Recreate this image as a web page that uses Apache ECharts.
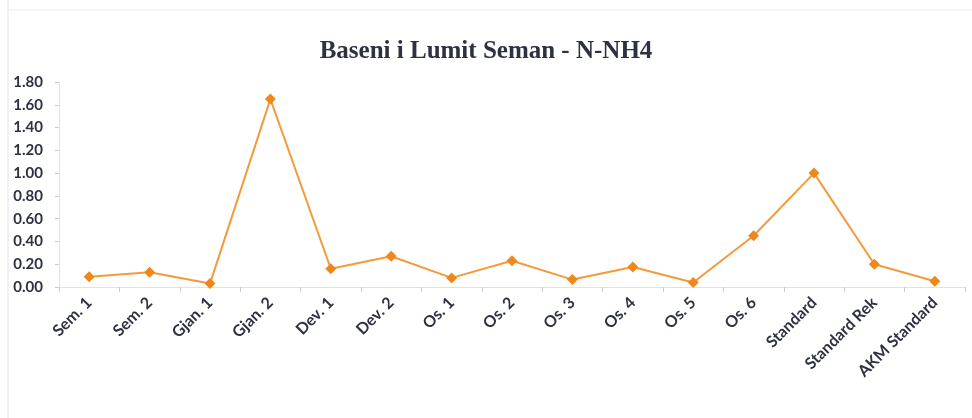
<!DOCTYPE html>
<html>
<head>
<meta charset="utf-8">
<script src="https://cdn.jsdelivr.net/npm/echarts@6/dist/echarts.min.js"></script>
<style>
  html, body { margin: 0; padding: 0; background: #fff; }
  #chart { width: 972px; height: 418px; }
</style>
</head>
<body>
<div id="chart"></div>
<script>
// te dhenat
var categories = ['Sem. 1', 'Sem. 2', 'Gjan. 1', 'Gjan. 2', 'Dev. 1', 'Dev. 2', 'Os. 1', 'Os. 2',
  'Os. 3', 'Os. 4', 'Os. 5', 'Os. 6', 'Standard', 'Standard Rek', 'AKM Standard'];
var values = [0.09, 0.13, 0.03, 1.65, 0.16, 0.27, 0.08, 0.23, 0.065, 0.175, 0.04, 0.45, 1.00, 0.20, 0.05];
var yTicks = { min: 0, max: 1.8, step: 0.2 };

function Chart_1(){
  var chart = echarts.init(document.getElementById('chart'));
  var option = {
    backgroundColor: '#fff',
    title: {
      text: 'Baseni i Lumit Seman - N-NH4',
      left: 'center',
      top: 34,
      textStyle: {
        fontFamily: 'Liberation Serif',
        fontSize: 25,
        fontWeight: 'bold',
        color: '#2e3240'
      }
    },
    graphic: [
      { type: 'line', shape: { x1: 8, y1: 0, x2: 8, y2: 418 }, style: { stroke: '#e4e4e4', lineWidth: 1 } },
      { type: 'line', shape: { x1: 8, y1: 10, x2: 972, y2: 10 }, style: { stroke: '#ececec', lineWidth: 1 } }
    ],
    grid: {
      left: 59,
      right: 7,
      top: 82,
      height: 205
    },
    xAxis: {
      type: 'category',
      data: categories,
      boundaryGap: true,
      axisLine: { lineStyle: { color: '#dfe2e8' } },
      axisTick: { show: true, length: 5, lineStyle: { color: '#c8ccd4' } },
      axisLabel: {
        rotate: 45,
        interval: 0,
        margin: 13,
        fontFamily: 'Lato',
        fontWeight: 'bold',
        fontSize: 16,
        color: '#2e3240'
      },
      splitLine: { show: false }
    },
    yAxis: {
      type: 'value',
      min: yTicks.min,
      max: yTicks.max,
      interval: yTicks.step,
      axisLine: { show: true, lineStyle: { color: '#dfe2e8' } },
      axisTick: { show: true, length: 4, lineStyle: { color: '#c8ccd4' } },
      axisLabel: {
        margin: 16,
        fontFamily: 'Lato',
        fontWeight: 'bold',
        fontSize: 15,
        color: '#2e3240',
        formatter: function (v) { return v.toFixed(2); }
      },
      splitLine: { show: false }
    },
    series: [
      {
        name: 'N-NH4',
        type: 'line',
        data: values,
        symbol: 'diamond',
        symbolSize: 11,
        lineStyle: { color: '#f39b3c', width: 2 },
        itemStyle: { color: '#ef871a' }
      }
    ]
  };
  chart.setOption(option);
  window.addEventListener('resize', function() {
    chart.resize();
  });
}

Chart_1();
</script>
</body>
</html>
